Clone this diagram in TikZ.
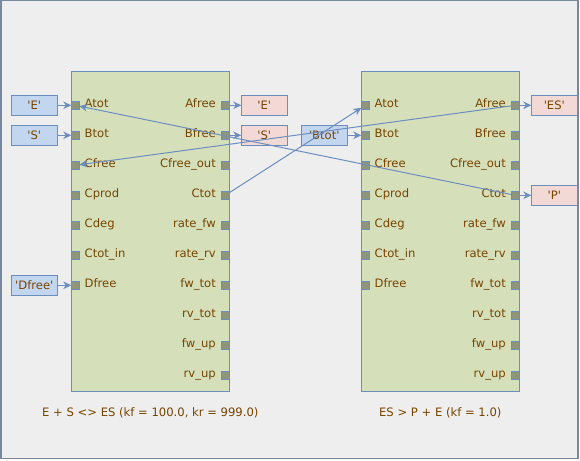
\documentclass[tikz,border=0pt]{standalone}
\usepackage{fontspec}
\setmainfont{DejaVu Sans}[Ligatures=TeXOff]
\usetikzlibrary{arrows.meta}
\definecolor{bgc}{HTML}{EEEEEE}
\definecolor{framec}{HTML}{7888A0}
\definecolor{blockc}{HTML}{D5E0BB}
\definecolor{edgec}{HTML}{6C8EBF}
\definecolor{portc}{HTML}{8F957A}
\definecolor{inc}{HTML}{C3D6F0}
\definecolor{outc}{HTML}{F2D9D6}
\definecolor{txtc}{HTML}{774400}
\tikzset{
  frame/.style={draw=framec, fill=bgc, line width=1.5pt},
  block/.style={draw=edgec, fill=blockc, line width=1pt},
  port/.style={draw=edgec, fill=portc, line width=1pt, minimum size=8pt, inner sep=0pt, outer sep=0pt, rectangle},
  inbox/.style={draw=edgec, fill=inc, line width=1pt, minimum width=46pt, minimum height=20pt, inner sep=0pt, outer sep=0pt, text=txtc, font=\fontsize{11.6}{13}\selectfont},
  outbox/.style={inbox, fill=outc},
  lbl/.style={text=txtc, font=\fontsize{11.6}{13}\selectfont, inner sep=0pt},
  conn/.style={draw=edgec, line width=1pt, -{Stealth[length=8pt,width=7.5pt,inset=2.5pt]}},
}
\begin{document}
\begin{tikzpicture}[x=1pt,y=-1pt]
\useasboundingbox (0,0) rectangle (580,460);
\draw[frame] (0.75,0.75) rectangle (578,458.25);

% blocks
\draw[block] (71.3,71.3) rectangle (229.3,391.3);
\draw[block] (361.3,71.3) rectangle (519.3,391.3);

% ports and their labels
\foreach \n [count=\i from 0] in {Atot,Btot,Cfree,Cprod,Cdeg,Ctot_in,Dfree}{
  \node[port] (b1L\i) at (75.3,105.3+30*\i) {};
  \node[lbl, anchor=base west] (b1Ll\i) at (84.5,107.8+30*\i) {\detokenize\expandafter{\n}};
  \node[port] (b2L\i) at (365.3,105.3+30*\i) {};
  \node[lbl, anchor=base west] (b2Ll\i) at (374.5,107.8+30*\i) {\detokenize\expandafter{\n}};
}
\foreach \n [count=\i from 0] in {Afree,Bfree,Cfree_out,Ctot,rate_fw,rate_rv,fw_tot,rv_tot,fw_up,rv_up}{
  \node[port] (b1R\i) at (225.3,105.3+30*\i) {};
  \node[lbl, anchor=base east] (b1Rl\i) at (216,107.8+30*\i) {\detokenize\expandafter{\n}};
  \node[port] (b2R\i) at (515.3,105.3+30*\i) {};
  \node[lbl, anchor=base east] (b2Rl\i) at (506,107.8+30*\i) {\detokenize\expandafter{\n}};
}

% captions
\node[lbl, anchor=base] (cap1) at (150.3,416.5) {E + S <> ES (kf = 100.0, kr = 999.0)};
\node[lbl, anchor=base] (cap2) at (440.3,416.5) {ES > P + E (kf = 1.0)};

% boxes
\node[inbox] (inE) at (34.3,105.3) {'E'};
\node[inbox] (inS) at (34.3,135.3) {'S'};
\node[inbox] (inD) at (34.3,285.3) {'Dfree'};
\node[outbox] (outE) at (264.3,105.3) {'E'};
\node[outbox] (outS) at (264.3,135.3) {'S'};
\node[inbox] (inB) at (324.3,135.3) {'Btot'};
\node[outbox] (outES) at (554.3,105.3) {'ES'};
\node[outbox] (outP) at (554.3,195.3) {'P'};

% connectors
\draw[conn] (inE) -- (b1L0);
\draw[conn] (inS) -- (b1L1);
\draw[conn] (inD) -- (b1L6);
\draw[conn] (b1R0) -- (outE);
\draw[conn] (b1R1) -- (outS);
\draw[conn] (inB) -- (b2L1);
\draw[conn] (b2R0) -- (outES);
\draw[conn] (b2R3) -- (outP);
\draw[conn] (b2R0) -- (b1L2);
\draw[conn] (b2R3) -- (b1L0);
\draw[conn] (b1R3) -- (b2L0);
\end{tikzpicture}
\end{document}
